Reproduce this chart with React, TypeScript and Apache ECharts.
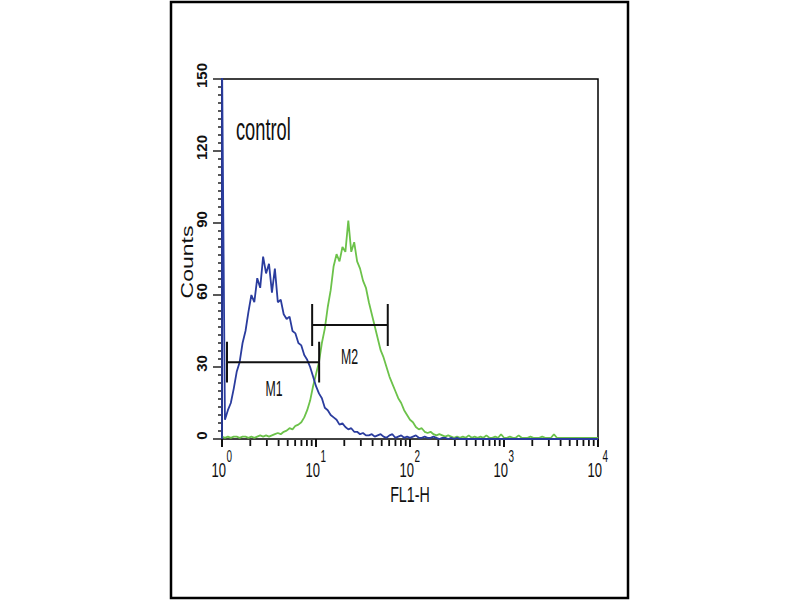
import React, { useEffect, useRef } from "react";
import * as echarts from "echarts";

// Histogram channels: 256 channels per decade, one value every 8 channels (0 .. 1024)
const CHANNELS_PER_DECADE = 256;
const CHANNEL_STEP = 8;

const blueCounts = [
  160, 8, 12, 15, 21, 28, 32, 40, 45, 53,
  60, 57, 67, 63, 76, 69, 73, 61, 71, 57,
  58, 52, 50, 51, 45, 44, 40, 39, 35, 33,
  30, 26, 22, 19, 17, 13, 12, 10, 9, 8,
  6, 6.5, 5, 4, 4.5, 3, 3, 2, 2.5, 1.5,
  1.5, 2, 1, 1.5, 2, 1, 0.5, 1.5, 2, 0.5,
  1, 1.5, 0.5, 1, 0.5, 1, 1.5, 0.5, 0.5, 1,
  0.5, 0.5, 1, 0.5, 0, 0.5, 0.5, 0, 0.5, 0,
  0.5, 0, 0, 0, 0, 0, 0, 0, 0, 0,
  0, 0, 0, 0, 0, 0, 0, 0, 0, 0,
  0, 0, 0, 0, 0, 0, 0, 0, 0, 0,
  0, 0, 0, 0, 0, 0, 0, 0, 0, 0,
  0, 0, 0, 0, 0, 0, 0, 0, 0,
];

const greenCounts = [
  1, 0.5, 1, 0.5, 1, 1, 0.5, 1, 1, 0.5,
  1, 0.5, 1, 1.5, 1, 1.5, 1, 1.5, 2, 2.5,
  2, 3, 3.5, 4.5, 4, 5.5, 6, 7, 9, 12,
  16, 22, 27, 32, 40, 46, 55, 62, 72, 77,
  74, 80, 78, 91, 78, 82, 74, 71, 66, 63,
  57, 52, 47, 42, 37, 34, 30, 26, 23, 20,
  17, 15, 12, 10, 8, 7, 5, 4, 4.5, 3,
  2.5, 3, 2, 1.5, 2, 1.5, 1, 1.5, 1, 0.5,
  1, 0.5, 1, 0.5, 1.5, 0.5, 1, 0.5, 1, 0.5,
  1.5, 0.5, 0.5, 1, 0.5, 2, 0.5, 0.5, 1, 0.5,
  0.5, 1.5, 0.5, 0.5, 0.5, 1, 0.5, 0.5, 0.5, 1,
  0.5, 0.5, 0.5, 2, 0.5, 0.5, 0.5, 0.5, 0.5, 0.5,
  0.5, 0.5, 0.5, 0.5, 0.5, 0.5, 0.5, 0.5, 0.5,
];

// Region markers
const markerNames = ["M1", "M2"];
const markerStart = [1.13, 9.1];
const markerEnd = [10.8, 58];
const markerLevel = [32, 47.5];
const markerHalfHeight = [8.5, 8.7];
const markerLabelX = [3.57, 22.7];
const markerLabelY = [21, 34.4];

// Axes
const xMin = 1;
const xMax = 10000;
const xTickValues = [1, 10, 100, 1000, 10000];
const xMinorMultipliers = [2, 3, 4, 5, 6, 7, 8, 9];
const xTickBase = "10";
const xTickExponents = ["0", "1", "2", "3", "4"];
const yMin = 0;
const yMax = 150;
const yInterval = 30;
const xAxisTitle = "FL1-H";
const yAxisTitle = "Counts";
const sampleLabel = "control";

const BLUE = "#2a3c9e";
const GREEN = "#6cc24a";
const FONT = "'Liberation Sans', Arial, sans-serif";

const channelValue = (i: number) =>
  Math.pow(10, (i * CHANNEL_STEP) / CHANNELS_PER_DECADE);

export default function App() {
  const ref = useRef<HTMLDivElement>(null);

  useEffect(() => {
    if (!ref.current) return;
    const chart = echarts.init(ref.current, undefined, { renderer: "svg" });

    const blueData = [[xMin, 0], ...blueCounts.map((c, i) => [channelValue(i), c])];
    const greenData = greenCounts.map((c, i) => [channelValue(i), c]);

    const minorTickValues: number[] = [];
    xTickValues.slice(0, -1).forEach((d) =>
      xMinorMultipliers.forEach((m) => minorTickValues.push(d * m))
    );

    const markerSeries = markerNames.map((name, k) => {
      const s = markerStart[k];
      const e = markerEnd[k];
      const y = markerLevel[k];
      const h = markerHalfHeight[k];
      return {
        name,
        type: "line",
        data: [
          [s, y - h],
          [s, y + h],
          [s, y],
          [e, y],
          [e, y + h],
          [e, y - h],
        ],
        symbol: "none",
        lineStyle: { color: "#111", width: 2 },
        z: 5,
      };
    });

    chart.setOption({
      animation: false,
      backgroundColor: "#fff",
      grid: {
        left: 222,
        right: 202,
        top: 79,
        bottom: 161,
        show: true,
        borderColor: "#000",
        borderWidth: 1.5,
        backgroundColor: "transparent",
      },
      xAxis: {
        type: "log",
        logBase: 10,
        min: xMin,
        max: xMax,
        axisLine: { lineStyle: { color: "#444", width: 1.5 } },
        axisTick: { show: true, length: 8, lineStyle: { color: "#111", width: 2 } },
        axisLabel: { show: false },
        splitLine: { show: false },
      },
      yAxis: {
        type: "value",
        min: yMin,
        max: yMax,
        interval: yInterval,
        axisLine: { show: true, lineStyle: { color: "#000", width: 2 } },
        axisTick: { show: true, length: 9, lineStyle: { color: "#222", width: 1.5 } },
        minorTick: { show: true, splitNumber: 9, length: 4, lineStyle: { color: "#222", width: 1.5 } },
        axisLabel: {
          rotate: 90,
          margin: 13,
          fontSize: 15,
          fontWeight: "bold",
          fontFamily: FONT,
          color: "#111",
          padding: [0, 0, 0, 7],
        },
        splitLine: { show: false },
      },
      series: [
        {
          name: "minor ticks",
          type: "custom",
          data: minorTickValues.map((v) => [v, yMin]),
          clip: false,
          silent: true,
          renderItem: (_params: any, api: any) => {
            const p = api.coord([api.value(0), api.value(1)]);
            return {
              type: "line",
              shape: { x1: p[0], y1: p[1] + 1, x2: p[0], y2: p[1] + 7 },
              style: { stroke: "#111", lineWidth: 1.8 },
            };
          },
          z: 6,
        },
        {
          name: "green",
          type: "line",
          data: greenData,
          symbol: "none",
          lineStyle: { color: GREEN, width: 1.8 },
          z: 3,
        },
        {
          name: "blue",
          type: "line",
          data: blueData,
          symbol: "none",
          lineStyle: { color: BLUE, width: 1.8 },
          z: 4,
        },
        ...markerSeries,
      ],
    });

    const px = (x: number, y: number) =>
      chart.convertToPixel({ xAxisIndex: 0, yAxisIndex: 0 }, [x, y]) as number[];

    const graphics: any[] = [
      {
        type: "rect",
        shape: { x: 171, y: 2, width: 457, height: 596 },
        style: { fill: "none", stroke: "#000", lineWidth: 2.5 },
        z: 0,
      },
    ];

    const baseY = px(xMin, yMin)[1];
    xTickValues.forEach((v, i) => {
      const [tx] = px(v, yMin);
      graphics.push({
        type: "text",
        x: tx + 4,
        y: baseY + 30.5,
        scaleX: 0.62,
        style: {
          text: xTickBase,
          fontSize: 21,
          fontFamily: FONT,
          fill: "#111",
          align: "right",
          verticalAlign: "middle",
          textAlign: "right",
          textVerticalAlign: "middle",
        },
        z: 10,
      });
      graphics.push({
        type: "text",
        x: tx + 4.5,
        y: baseY + 18,
        scaleX: 0.62,
        style: {
          text: xTickExponents[i],
          fontSize: 16,
          fontFamily: FONT,
          fill: "#111",
          align: "left",
          verticalAlign: "middle",
          textAlign: "left",
          textVerticalAlign: "middle",
        },
        z: 10,
      });
    });

    const leftX = px(xMin, yMin)[0];
    const rightX = px(xMax, yMin)[0];
    const topY = px(xMin, yMax)[1];
    graphics.push({
      type: "text",
      x: (leftX + rightX) / 2,
      y: baseY + 55,
      scaleX: 0.65,
      style: {
        text: xAxisTitle,
        fontSize: 22,
        fontFamily: FONT,
        fill: "#111",
        align: "center",
        verticalAlign: "middle",
        textAlign: "center",
        textVerticalAlign: "middle",
      },
      z: 10,
    });
    graphics.push({
      type: "text",
      x: leftX - 35,
      y: (baseY + topY) / 2 + 3,
      rotation: Math.PI / 2,
      scaleY: 0.69,
      style: {
        text: yAxisTitle,
        fontSize: 23,
        fontFamily: FONT,
        fill: "#111",
        align: "center",
        verticalAlign: "middle",
        textAlign: "center",
        textVerticalAlign: "middle",
      },
      z: 10,
    });
    graphics.push({
      type: "text",
      x: 236,
      y: 129,
      scaleX: 0.57,
      style: {
        text: sampleLabel,
        fontSize: 32,
        fontFamily: FONT,
        fill: "#111",
        align: "left",
        verticalAlign: "middle",
        textAlign: "left",
        textVerticalAlign: "middle",
      },
      z: 10,
    });
    markerNames.forEach((name, k) => {
      const [mx, my] = px(markerLabelX[k], markerLabelY[k]);
      graphics.push({
        type: "text",
        x: mx,
        y: my,
        scaleX: 0.56,
        style: {
          text: name,
          fontSize: 22,
          fontFamily: FONT,
          fill: "#111",
          align: "center",
          verticalAlign: "middle",
          textAlign: "center",
          textVerticalAlign: "middle",
        },
        z: 10,
      });
    });

    chart.setOption({ graphic: graphics });

    return () => chart.dispose();
  }, []);

  return (
    <div
      ref={ref}
      style={{ position: "absolute", left: 0, top: 0, width: 800, height: 600, background: "#fff" }}
    />
  );
}
